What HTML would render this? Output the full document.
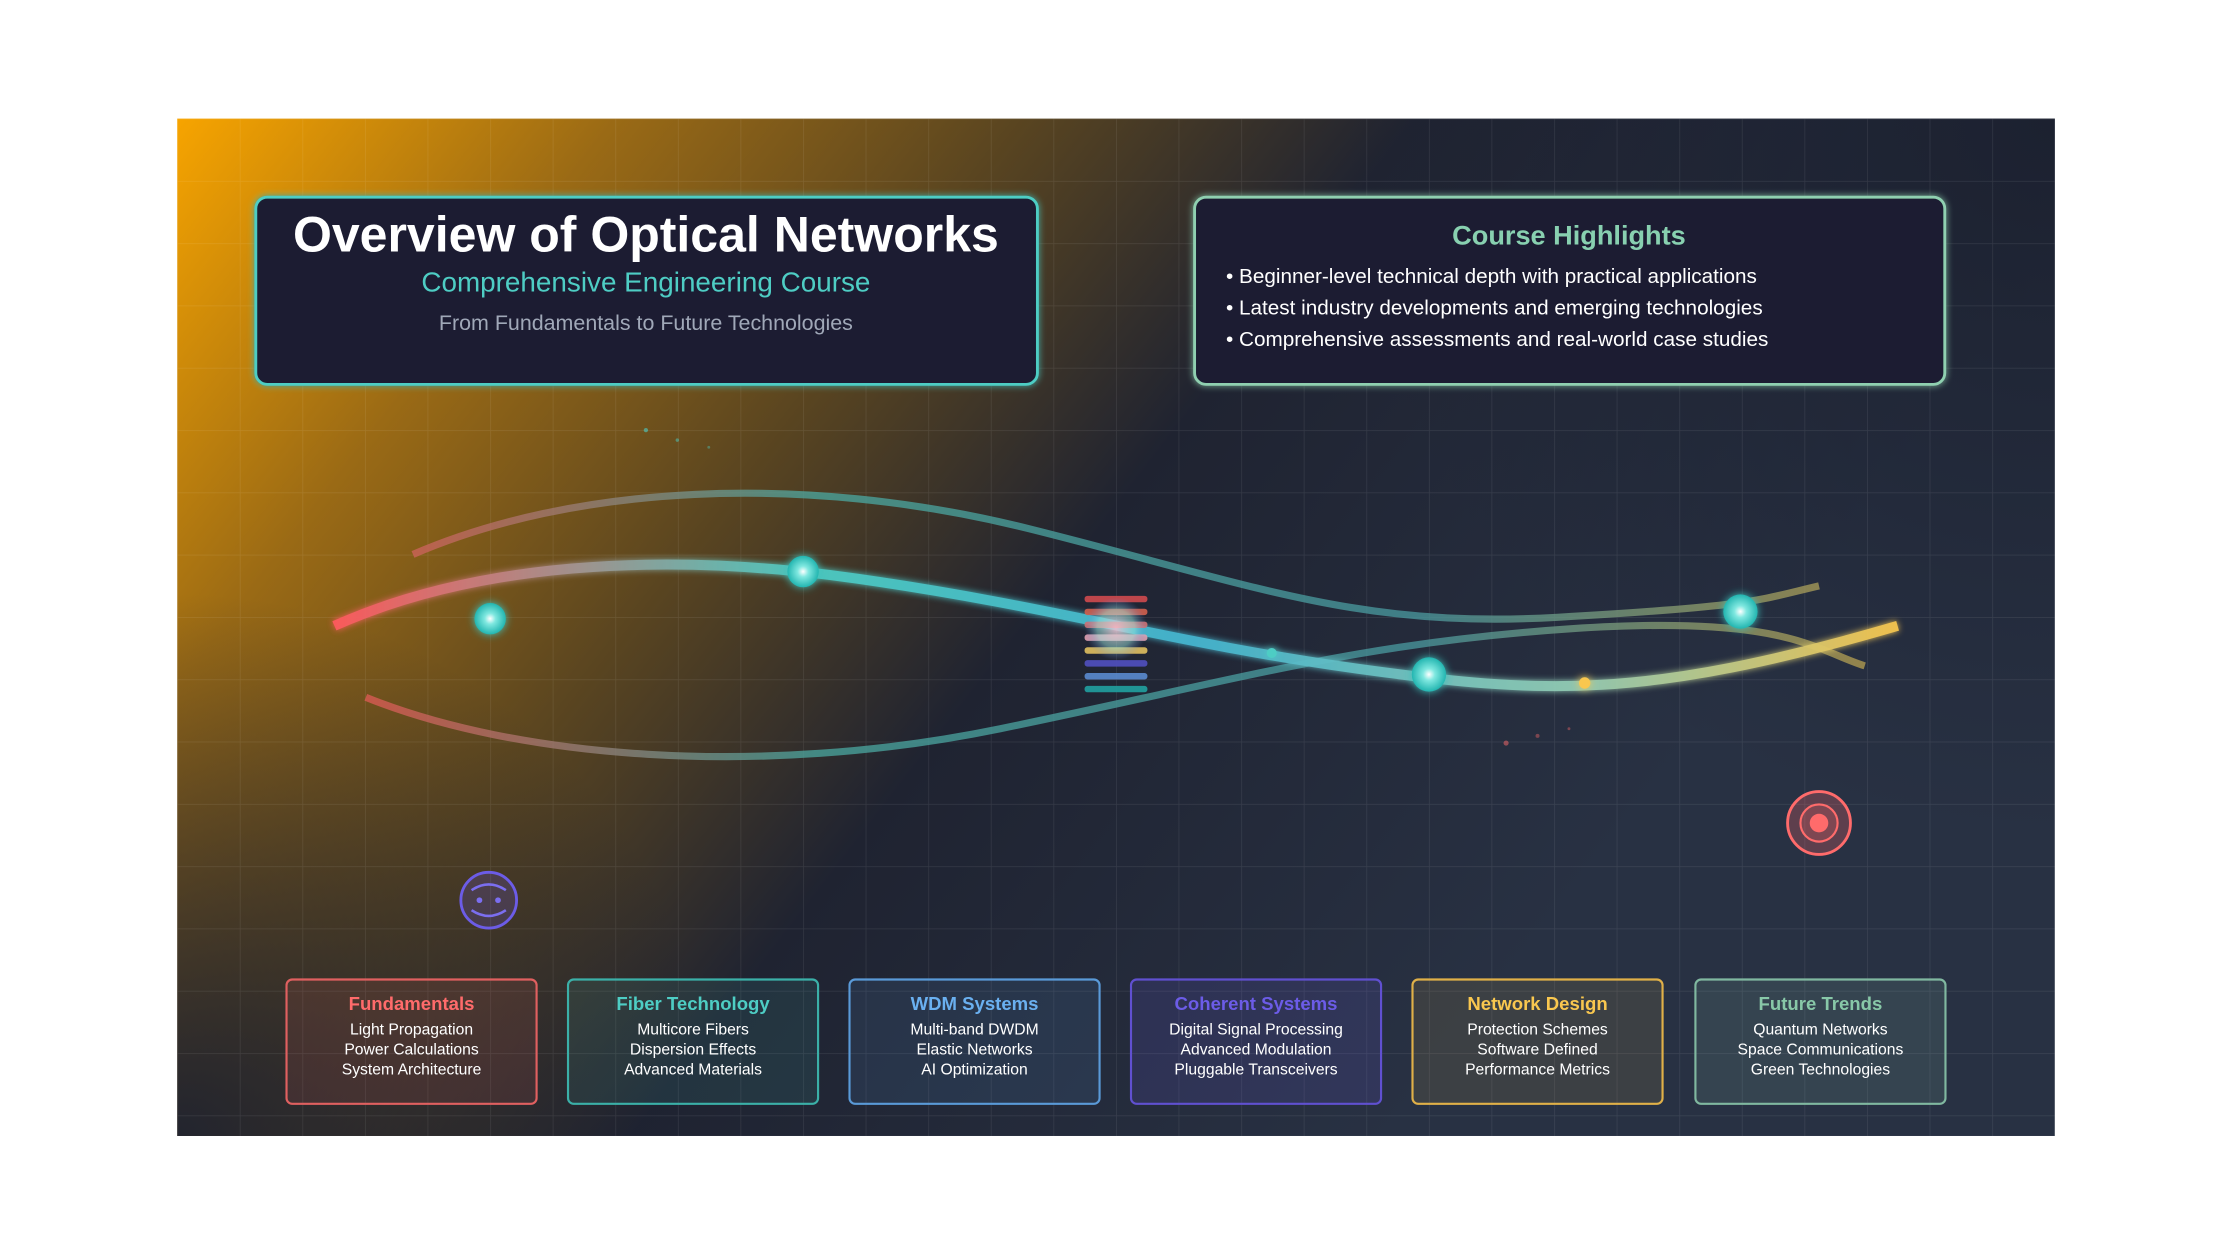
<!DOCTYPE html>
<html><head><meta charset="utf-8"><style>html,body{margin:0;padding:0;background:#fff;}svg{display:block}</style></head>
<body>
<svg width="2240" height="1260" viewBox="0 0 1567.6 881.8" xmlns="http://www.w3.org/2000/svg" font-family="'Liberation Sans', sans-serif">
<defs>
<linearGradient id="bg" gradientUnits="userSpaceOnUse" x1="124" y1="83" x2="1000" y2="760">
<stop offset="0" stop-color="#f7a400"/>
<stop offset="0.22" stop-color="#9a6a15"/>
<stop offset="0.42" stop-color="#5a4520"/>
<stop offset="0.62" stop-color="#1f2331"/>
<stop offset="1" stop-color="#283143"/>
</linearGradient>
<radialGradient id="bl" cx="124" cy="795" r="380" gradientUnits="userSpaceOnUse">
<stop offset="0" stop-color="#1b2030" stop-opacity="0.9"/>
<stop offset="1" stop-color="#1b2030" stop-opacity="0"/>
</radialGradient>
<radialGradient id="tr" cx="1438" cy="83" r="500" gradientUnits="userSpaceOnUse">
<stop offset="0" stop-color="#1c2130" stop-opacity="1"/>
<stop offset="1" stop-color="#1c2130" stop-opacity="0"/>
</radialGradient>
<pattern id="grid" x="124" y="83" width="43.8" height="43.6" patternUnits="userSpaceOnUse">
<path d="M0 0H43.8M0 0V43.6" stroke="#ffffff" stroke-opacity="0.09" stroke-width="1" fill="none"/>
</pattern>
<linearGradient id="gMain" gradientUnits="userSpaceOnUse" x1="234" y1="0" x2="1328" y2="0">
<stop offset="0" stop-color="#ff5a5f"/><stop offset="0.3" stop-color="#4ecdc4"/><stop offset="0.55" stop-color="#45b7d1"/><stop offset="0.8" stop-color="#96ceb4"/><stop offset="1" stop-color="#f9c74f"/>
</linearGradient>
<linearGradient id="gSide" gradientUnits="userSpaceOnUse" x1="256" y1="0" x2="1305" y2="0">
<stop offset="0" stop-color="#e05a55"/><stop offset="0.3" stop-color="#4aa8a0"/><stop offset="0.7" stop-color="#4a9aa0"/><stop offset="1" stop-color="#b8a050"/>
</linearGradient>
<radialGradient id="node"><stop offset="0" stop-color="#ffffff"/><stop offset="0.35" stop-color="#7fe8e0"/><stop offset="1" stop-color="#22b5b0"/></radialGradient>
<radialGradient id="rb"><stop offset="0" stop-color="#ffc0d0"/><stop offset="0.6" stop-color="#9ee8e0" stop-opacity="0.6"/><stop offset="1" stop-color="#6080e0" stop-opacity="0"/></radialGradient>
<filter id="glow" x="-50%" y="-50%" width="200%" height="200%"><feGaussianBlur stdDeviation="3" result="b"/><feMerge><feMergeNode in="b"/><feMergeNode in="SourceGraphic"/></feMerge></filter>
<filter id="glow2" x="-20%" y="-20%" width="140%" height="140%"><feGaussianBlur stdDeviation="2.5" result="b"/><feMerge><feMergeNode in="b"/><feMergeNode in="SourceGraphic"/></feMerge></filter>
</defs>

<rect x="124" y="83" width="1314" height="712" fill="url(#bg)"/>
<rect x="124" y="83" width="1314" height="712" fill="url(#bl)"/>
<rect x="124" y="83" width="1314" height="712" fill="url(#tr)"/>
<rect x="124" y="83" width="1314" height="712" fill="url(#grid)"/>

<!-- curves -->
<path d="M289 388 C400 340, 560 330, 720 370 S 950 440, 1090 432 S 1230 420, 1273 410" stroke="url(#gSide)" stroke-width="5" fill="none" opacity="0.75"/>
<path d="M256 488 C360 530, 530 545, 700 510 S 950 450, 1100 440 S 1270 455, 1305 466" stroke="url(#gSide)" stroke-width="5" fill="none" opacity="0.75"/>
<path d="M234 438 C330 395, 460 385, 600 405 S 820 450, 950 468 S 1150 490, 1328 438" stroke="url(#gMain)" stroke-width="7" fill="none" filter="url(#glow2)" opacity="0.95"/>

<!-- bars -->
<g opacity="0.9">
<rect x="759" y="417" width="44" height="4.5" rx="2" fill="#d04a4e"/>
<rect x="759" y="426" width="44" height="4.5" rx="2" fill="#d0604e"/>
<rect x="759" y="435" width="44" height="4.5" rx="2" fill="#d07070"/>
<rect x="759" y="444" width="44" height="4.5" rx="2" fill="#e0a0b0"/>
<rect x="759" y="453" width="44" height="4.5" rx="2" fill="#e0c060"/>
<rect x="759" y="462" width="44" height="4.5" rx="2" fill="#5050c0"/>
<rect x="759" y="471" width="44" height="4.5" rx="2" fill="#5a8ad0"/>
<rect x="759" y="480" width="44" height="4.5" rx="2" fill="#20a0a0"/>
</g>
<circle cx="781" cy="440" r="22" fill="url(#rb)" opacity="0.8"/>

<!-- nodes -->
<g filter="url(#glow)">
<circle cx="343" cy="433" r="11" fill="url(#node)"/>
<circle cx="562" cy="400" r="11" fill="url(#node)"/>
<circle cx="1000" cy="472" r="12" fill="url(#node)"/>
<circle cx="1218" cy="428" r="12" fill="url(#node)"/>
<circle cx="890" cy="457" r="3.5" fill="#4ecdc4"/>
<circle cx="1109" cy="478" r="4" fill="#f9c74f"/>
</g>
<circle cx="452" cy="301" r="1.5" fill="#4ecdc4" opacity="0.6"/>
<circle cx="474" cy="308" r="1.2" fill="#4ecdc4" opacity="0.5"/>
<circle cx="496" cy="313" r="1" fill="#4ecdc4" opacity="0.4"/>
<circle cx="1054" cy="520" r="1.8" fill="#ff6b6b" opacity="0.5"/>
<circle cx="1076" cy="515" r="1.4" fill="#ff6b6b" opacity="0.4"/>
<circle cx="1098" cy="510" r="1" fill="#ff6b6b" opacity="0.4"/>

<!-- target -->
<circle cx="1273" cy="576" r="22" fill="#ff6b6b" fill-opacity="0.25" stroke="#ff6b6b" stroke-width="2"/>
<circle cx="1273" cy="576" r="13" fill="#ff6b6b" fill-opacity="0.2" stroke="#ff6b6b" stroke-width="1.5"/>
<circle cx="1273" cy="576" r="6.5" fill="#ff6b6b"/>

<!-- smiley -->
<circle cx="342" cy="630" r="19.5" fill="#6c5ce7" fill-opacity="0.2" stroke="#6c5ce7" stroke-width="2"/>
<circle cx="335.5" cy="630" r="2" fill="#7b6ef0"/>
<circle cx="348.5" cy="630" r="2" fill="#7b6ef0"/>
<path d="M330 623 Q342 615 354 623" stroke="#7b6ef0" stroke-width="1.8" fill="none"/>
<path d="M330 637 Q342 645 354 637" stroke="#7b6ef0" stroke-width="1.8" fill="none"/>

<!-- title box -->
<rect x="179" y="138" width="547" height="131" rx="8" fill="#1a1f30" stroke="#4ecdc4" stroke-width="2" filter="url(#glow2)"/>
<text x="452" y="176" text-anchor="middle" font-size="35" font-weight="bold" fill="#ffffff" textLength="494" lengthAdjust="spacingAndGlyphs">Overview of Optical Networks</text>
<text x="452" y="204" text-anchor="middle" font-size="19.5" fill="#4ecdc4">Comprehensive Engineering Course</text>
<text x="452" y="231" text-anchor="middle" font-size="15" fill="#a0a8b8">From Fundamentals to Future Technologies</text>

<!-- highlights -->
<rect x="836" y="138" width="525" height="131" rx="8" fill="#1a1f30" stroke="#8fd0b0" stroke-width="2" filter="url(#glow2)"/>
<text x="1098" y="171" text-anchor="middle" font-size="19" font-weight="bold" fill="#88d0b0">Course Highlights</text>
<g font-size="14.5" fill="#ffffff">
<text x="858" y="198">• Beginner-level technical depth with practical applications</text>
<text x="858" y="220">• Latest industry developments and emerging technologies</text>
<text x="858" y="242">• Comprehensive assessments and real-world case studies</text>
</g>

<!-- bottom cards -->
<g font-size="11" text-anchor="middle">
<rect x="200.5" y="685.5" width="175" height="87" rx="4" fill="#ff6b6b" fill-opacity="0.1" stroke="#e06060" stroke-width="1.5"/>
<text x="288" y="707" font-size="13" font-weight="bold" fill="#ff6b6b">Fundamentals</text>
<text x="288" y="724" fill="#fff">Light Propagation</text><text x="288" y="738" fill="#fff">Power Calculations</text><text x="288" y="752" fill="#fff">System Architecture</text>

<rect x="397.5" y="685.5" width="175" height="87" rx="4" fill="#4ecdc4" fill-opacity="0.1" stroke="#3bb0a8" stroke-width="1.5"/>
<text x="485" y="707" font-size="13" font-weight="bold" fill="#4ecdc4">Fiber Technology</text>
<text x="485" y="724" fill="#fff">Multicore Fibers</text><text x="485" y="738" fill="#fff">Dispersion Effects</text><text x="485" y="752" fill="#fff">Advanced Materials</text>

<rect x="594.5" y="685.5" width="175" height="87" rx="4" fill="#5aa0e0" fill-opacity="0.12" stroke="#5a9ad8" stroke-width="1.5"/>
<text x="682" y="707" font-size="13" font-weight="bold" fill="#6ab0f0">WDM Systems</text>
<text x="682" y="724" fill="#fff">Multi-band DWDM</text><text x="682" y="738" fill="#fff">Elastic Networks</text><text x="682" y="752" fill="#fff">AI Optimization</text>

<rect x="791.5" y="685.5" width="175" height="87" rx="4" fill="#6c5ce7" fill-opacity="0.15" stroke="#6050d0" stroke-width="1.5"/>
<text x="879" y="707" font-size="13" font-weight="bold" fill="#6c5ce7">Coherent Systems</text>
<text x="879" y="724" fill="#fff">Digital Signal Processing</text><text x="879" y="738" fill="#fff">Advanced Modulation</text><text x="879" y="752" fill="#fff">Pluggable Transceivers</text>

<rect x="988.5" y="685.5" width="175" height="87" rx="4" fill="#f9c74f" fill-opacity="0.1" stroke="#e0b048" stroke-width="1.5"/>
<text x="1076" y="707" font-size="13" font-weight="bold" fill="#f9c74f">Network Design</text>
<text x="1076" y="724" fill="#fff">Protection Schemes</text><text x="1076" y="738" fill="#fff">Software Defined</text><text x="1076" y="752" fill="#fff">Performance Metrics</text>

<rect x="1186.5" y="685.5" width="175" height="87" rx="4" fill="#96ceb4" fill-opacity="0.12" stroke="#80b8a0" stroke-width="1.5"/>
<text x="1274" y="707" font-size="13" font-weight="bold" fill="#88c8a8">Future Trends</text>
<text x="1274" y="724" fill="#fff">Quantum Networks</text><text x="1274" y="738" fill="#fff">Space Communications</text><text x="1274" y="752" fill="#fff">Green Technologies</text>
</g>
</svg>
</body></html>
